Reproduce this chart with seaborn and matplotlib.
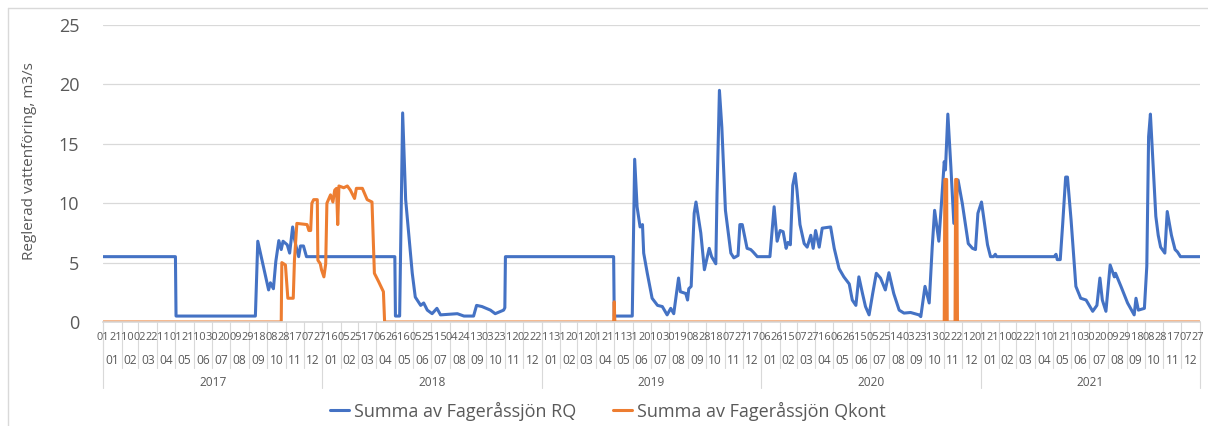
import numpy as np
import pandas as pd
import matplotlib
matplotlib.use('Agg')
import matplotlib.pyplot as plt
import matplotlib.transforms as mtransforms
from matplotlib.lines import Line2D
import seaborn as sns

# ---------------- data ----------------
start_date = '2017-01-01'
end_date = '2021-12-31'
series_names = ['Summa av Fageråssjön RQ', 'Summa av Fageråssjön Qkont']
series_colors = ['#4472C4', '#ED7D31']
y_ticks = [0, 5, 10, 15, 20, 25]
y_label = 'Reglerad vattenföring, m3/s'

# day index (category number since 2017-01-01, Feb 29 absent) and value
rq_day = [0, 120, 121, 253, 257, 275, 278, 283, 287, 292, 296, 299, 306, 310, 315, 318, 321, 325, 328, 333, 338,
          485, 486, 493, 498, 503, 508, 514, 519, 528, 533, 539, 547, 555, 561, 589, 600, 616, 621, 630, 644, 652,
          666, 668, 669, 849, 850, 880, 884, 888, 893, 897, 899, 905, 913, 922, 930, 938, 944, 949, 957, 960, 969,
          972, 974, 978, 983, 986, 994, 1000, 1008, 1012, 1019, 1021, 1025, 1029, 1035, 1044, 1049, 1056, 1059,
          1063, 1071, 1077, 1081, 1088, 1109, 1116, 1121, 1126, 1131, 1136, 1139, 1143, 1147, 1151, 1154, 1159,
          1166, 1171, 1177, 1181, 1185, 1191, 1196, 1210, 1216, 1224, 1232, 1241, 1246, 1252, 1257, 1263, 1268,
          1274, 1280, 1286, 1293, 1301, 1307, 1315, 1324, 1332, 1343, 1357, 1360, 1367, 1374, 1379, 1383, 1390,
          1394, 1399, 1401, 1405, 1410, 1415, 1422, 1429, 1439, 1446, 1451, 1455, 1461, 1471, 1476, 1481, 1484,
          1486, 1582, 1585, 1587, 1592, 1596, 1601, 1604, 1610, 1618, 1626, 1635, 1646, 1653, 1658, 1662, 1668,
          1675, 1682, 1684, 1693, 1704, 1715, 1718, 1722, 1732, 1736, 1739, 1742, 1746, 1751, 1755, 1759, 1766,
          1770, 1777, 1783, 1787, 1792, 1824]
rq_val = [5.5, 5.5, 0.5, 0.5, 6.8, 2.7, 3.3, 2.8, 5.1, 6.85, 6.1, 6.8, 6.5, 5.8, 8.0, 7.0, 6.3, 5.5, 6.4, 6.4, 5.5,
          5.5, 0.5, 0.5, 17.6, 10.3, 7.5, 4.1, 2.1, 1.4, 1.6, 1.0, 0.7, 1.15, 0.6, 0.7, 0.5, 0.5, 1.4, 1.3, 1.0, 0.7,
          1.0, 1.2, 5.5, 5.5, 0.5, 0.5, 13.7, 9.7, 8.0, 8.2, 5.8, 4.1, 2.0, 1.4, 1.3, 0.6, 1.15, 0.7, 3.7, 2.55, 2.4,
          1.85, 2.8, 3.0, 9.15, 10.1, 7.5, 4.4, 6.2, 5.5, 4.9, 10.8, 19.5, 16.4, 9.4, 5.8, 5.4, 5.6, 8.2,
          8.2, 6.2, 6.1, 5.9, 5.5, 5.5, 9.7, 6.8, 7.7, 7.6, 6.2, 6.7, 6.5, 11.5, 12.5, 11.1, 8.2,
          6.6, 6.3, 7.3, 6.2, 7.7, 6.3, 7.9, 8.0, 6.2, 4.5, 3.8, 3.2, 1.85, 1.4, 3.8, 2.4, 1.3,
          0.6, 2.4, 4.1, 3.7, 2.7, 4.15, 2.4, 1.0, 0.75, 0.8, 0.6, 0.45, 3.0, 1.6, 6.3, 9.4, 6.8,
          9.7, 13.5, 12.8, 17.5, 13.1, 8.3, 11.95, 10.0, 6.6, 6.2, 6.1, 9.15, 10.1, 6.5, 5.5, 5.5, 5.7,
          5.5, 5.5, 5.7, 5.25, 5.25, 8.2, 12.2, 12.2, 8.6, 3.0, 2.0, 1.85, 0.9, 1.4, 3.7, 1.85, 0.9,
          4.8, 3.8, 4.1, 3.0, 1.6, 0.6, 2.0, 1.0, 1.15, 4.7, 15.6, 17.5, 13.6, 8.9, 7.3, 6.3, 5.8,
          9.3, 7.3, 6.1, 5.9, 5.5, 5.5]

qk_day = [0, 296, 297, 303, 307, 316, 318, 322, 339, 342, 345, 347, 350, 356, 357, 361, 363, 367, 370, 372, 378,
          382, 385, 388, 390, 392, 400, 406, 411, 418, 421, 431, 439, 447, 451, 458, 466, 468,
          849, 850, 851, 1399, 1400, 1403, 1404, 1417, 1418, 1420, 1421, 1824]
qk_val = [0, 0, 5.0, 4.8, 2.0, 2.0, 5.2, 8.3, 8.2, 7.7, 7.7, 10.0, 10.3, 10.3, 5.2, 4.9, 4.4, 3.8, 4.9, 10.0, 10.7,
          10.1, 11.1, 11.25, 8.2, 11.45, 11.3, 11.45, 11.1, 10.4, 11.25, 11.25, 10.3, 10.1, 4.1, 3.4, 2.55, 0,
          0, 1.7, 0, 0, 12.0, 12.0, 0, 0, 12.0, 12.0, 0, 0]

# ---------------- categories ----------------
dates = pd.date_range(start_date, end_date, freq='D')
dates = dates[~((dates.month == 2) & (dates.day == 29))]
n = len(dates)
cat = pd.DataFrame({'year': dates.strftime('%Y'), 'month': dates.strftime('%m'), 'day': dates.strftime('%d')})
day_labels = list(cat['day'])

df = pd.concat([
    pd.DataFrame({'day': rq_day, 'value': rq_val, 'serie': series_names[0]}),
    pd.DataFrame({'day': qk_day, 'value': qk_val, 'serie': series_names[1]}),
], ignore_index=True)

sns.set_theme(style='white')
plt.rcParams['font.family'] = ['Open Sans', 'DejaVu Sans']

W, H = 1208, 426
fig = plt.figure(figsize=(W / 100, H / 100), dpi=100)
ax_left, ax_right, ax_top, ax_bottom = 103, 1200, 25, 322
ax = fig.add_axes([ax_left / W, 1 - ax_bottom / H, (ax_right - ax_left) / W, (ax_bottom - ax_top) / H])

sns.lineplot(data=df, x='day', y='value', hue='serie', palette=series_colors, hue_order=series_names,
             linewidth=2.2, ax=ax, legend=False, estimator=None, sort=False)

ax.set_xlim(-0.5, n - 0.5)
ax.set_ylim(0, 25)
ax.set_yticks(y_ticks)
ax.set_xticks([])
ax.set_xlabel('')
ax.set_ylabel('')
ax.grid(axis='y', color='#d9d9d9', linewidth=0.9)
ax.set_axisbelow(True)
for s in ['top', 'right', 'left']:
    ax.spines[s].set_visible(False)
ax.spines['bottom'].set_color('#d9d9d9')
ax.tick_params(axis='y', length=0, pad=17, labelsize=13, labelcolor='#595959')

trans = mtransforms.blended_transform_factory(ax.transData, ax.transAxes)
axh = ax_bottom - ax_top
def yfrac(px):
    return (ax_bottom - px) / axh

txt_col = '#595959'
# day labels every 20 categories
for i in range(0, n, 20):
    ax.text(i, yfrac(338), day_labels[i], transform=trans, ha='center', va='center',
            fontsize=7.9, color=txt_col, clip_on=False)

# month labels and separators
grp = cat.groupby(['year', 'month'], sort=True)
for (yy, mm), g in grp:
    i0, i1 = g.index.min(), g.index.max()
    ax.text((i0 + i1) / 2, yfrac(360), mm, transform=trans, ha='center', va='center',
            fontsize=8.6, color=txt_col, clip_on=False)
    ax.plot([i0 - 0.5, i0 - 0.5], [0, yfrac(368)], transform=trans, color='#d9d9d9', lw=0.8, clip_on=False)
ax.plot([n - 0.5, n - 0.5], [0, yfrac(388)], transform=trans, color='#d9d9d9', lw=0.8, clip_on=False)

for yy, g in cat.groupby('year', sort=True):
    i0, i1 = g.index.min(), g.index.max()
    ax.text((i0 + i1) / 2, yfrac(382), yy, transform=trans, ha='center', va='center',
            fontsize=8.6, color=txt_col, clip_on=False)
    ax.plot([i0 - 0.5, i0 - 0.5], [0, yfrac(388)], transform=trans, color='#d9d9d9', lw=0.8, clip_on=False)

# y label
fig.text(30 / W, 1 - 161 / H, y_label, rotation=90, ha='center', va='center', fontsize=11, color=txt_col)

# legend
handles = [Line2D([0], [0], color=c, lw=2.2) for c in series_colors]
fig.legend(handles, series_names, loc='center', bbox_to_anchor=(608 / W, 1 - 411 / H), ncol=2,
           frameon=False, fontsize=13, handlelength=1.05, handletextpad=0.3, columnspacing=2.0,
           labelcolor=txt_col)

# chart border
fig.add_artist(Line2D([8 / W, 1], [1 - 8 / H, 1 - 8 / H], color='#d9d9d9', lw=1, transform=fig.transFigure))
fig.add_artist(Line2D([8 / W, 8 / W], [0, 1 - 8 / H], color='#d9d9d9', lw=1, transform=fig.transFigure))

fig.savefig('out.png', dpi=100)
